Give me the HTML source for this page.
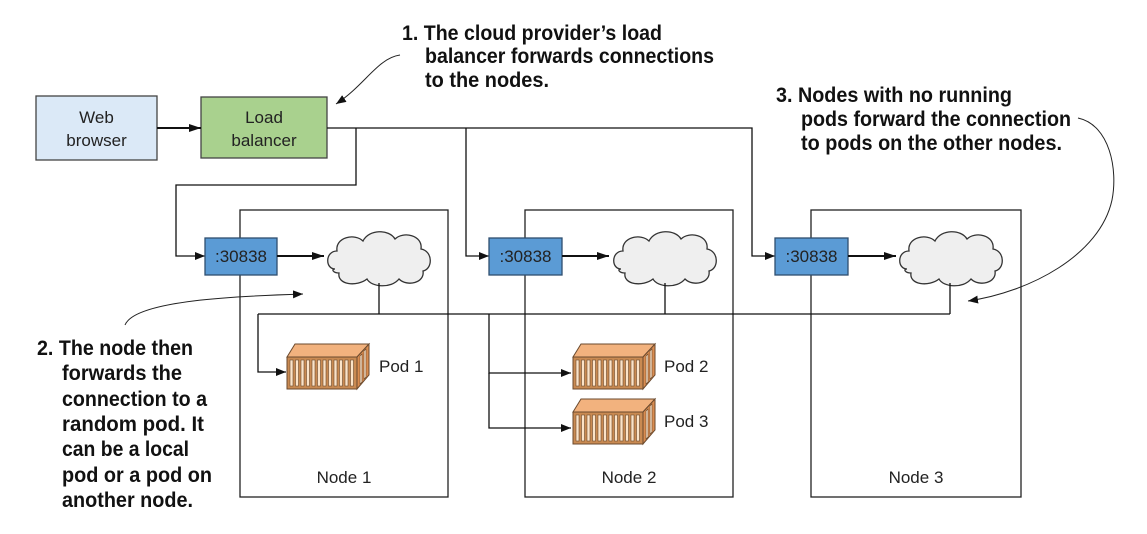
<!DOCTYPE html>
<html><head><meta charset="utf-8"><style>
html,body{margin:0;padding:0;background:#fff;}
svg{display:block;}
.b{font-family:"Liberation Sans",sans-serif;font-weight:bold;font-size:21px;fill:#111;}
.n{font-family:"Liberation Sans",sans-serif;font-size:17px;fill:#222;}
</style></head><body>
<svg width="1147" height="534" viewBox="0 0 1147 534" xmlns="http://www.w3.org/2000/svg">
<defs>
<marker id="ah" viewBox="0 0 10 8" refX="10" refY="4" markerWidth="10" markerHeight="8" markerUnits="userSpaceOnUse" orient="auto">
<path d="M0,0 L10,4 L0,8 Z" fill="#111"/></marker>
<marker id="ah2" viewBox="0 0 12 8" refX="12" refY="4" markerWidth="12" markerHeight="8" markerUnits="userSpaceOnUse" orient="auto">
<path d="M0,0 L12,4 L0,8 Z" fill="#111"/></marker>
<path id="cloud" d="M10,40 C0,40 0,22 12,22 C10,8 30,4 38,12 C44,0 64,0 70,10 C78,2 98,6 96,20 C108,22 108,40 98,42 C100,54 82,58 74,50 C66,60 46,58 42,50 C32,58 12,56 14,44 C8,44 6,40 10,40 Z" fill="#efefef" stroke="#333" stroke-width="1.3"/>
<g id="pod">
<path d="M0,14 L8,1 L82,1 L70,14 Z" fill="#f2b27e" stroke="#6b4a2e" stroke-width="1"/>
<path d="M70,14 L82,1 L82,32 L70,46 Z" fill="#d98c50" stroke="#6b4a2e" stroke-width="1"/>
<rect x="0" y="14" width="70" height="32" fill="#c98a52" stroke="#6b4a2e" stroke-width="1"/>
<g fill="#fbe3c8" stroke="#6b4a2e" stroke-width="0.6">
<rect x="3" y="17" width="3" height="26"/><rect x="8.5" y="17" width="3" height="26"/><rect x="14" y="17" width="3" height="26"/><rect x="19.5" y="17" width="3" height="26"/><rect x="25" y="17" width="3" height="26"/><rect x="30.5" y="17" width="3" height="26"/><rect x="36" y="17" width="3" height="26"/><rect x="41.5" y="17" width="3" height="26"/><rect x="47" y="17" width="3" height="26"/><rect x="52.5" y="17" width="3" height="26"/><rect x="58" y="17" width="3" height="26"/><rect x="63.5" y="17" width="3" height="26"/>
<path d="M73,13 L73,41 L75,39 L75,11 Z"/><path d="M77,8 L77,36 L79,34 L79,6 Z"/>
</g>
</g>
</defs>

<rect x="240" y="210" width="208" height="287" fill="none" stroke="#222" stroke-width="1.3"/>
<rect x="525" y="210" width="208" height="287" fill="none" stroke="#222" stroke-width="1.3"/>
<rect x="811" y="210" width="210" height="287" fill="none" stroke="#222" stroke-width="1.3"/>

<rect x="36" y="96" width="121" height="64" fill="#dbe9f7" stroke="#444" stroke-width="1.3"/>
<text class="n" x="96.5" y="123" text-anchor="middle">Web</text>
<text class="n" x="96.5" y="146" text-anchor="middle">browser</text>
<rect x="201" y="97" width="126" height="61" fill="#a9d18e" stroke="#444" stroke-width="1.3"/>
<text class="n" x="264" y="123" text-anchor="middle">Load</text>
<text class="n" x="264" y="146" text-anchor="middle">balancer</text>
<line x1="157" y1="128" x2="201" y2="128" stroke="#111" stroke-width="2" marker-end="url(#ah2)"/>

<g fill="none" stroke="#111" stroke-width="1.3">
<polyline points="327,128 752,128 752,256 775,256" marker-end="url(#ah)"/>
<polyline points="356,128 356,185 176,185 176,256 205,256" marker-end="url(#ah)"/>
<polyline points="466,128 466,256 489,256" marker-end="url(#ah)"/>
</g>

<rect x="205" y="238" width="72" height="37" fill="#5b9bd5" stroke="#2f4f6f" stroke-width="1.3"/>
<rect x="489" y="238" width="73" height="37" fill="#5b9bd5" stroke="#2f4f6f" stroke-width="1.3"/>
<rect x="775" y="238" width="73" height="37" fill="#5b9bd5" stroke="#2f4f6f" stroke-width="1.3"/>
<text class="n" x="241" y="262" text-anchor="middle">:30838</text>
<text class="n" x="525.5" y="262" text-anchor="middle">:30838</text>
<text class="n" x="811.5" y="262" text-anchor="middle">:30838</text>
<line x1="277" y1="256" x2="324" y2="256" stroke="#111" stroke-width="2" marker-end="url(#ah2)"/>
<line x1="562" y1="256" x2="609" y2="256" stroke="#111" stroke-width="2" marker-end="url(#ah2)"/>
<line x1="848" y1="256" x2="896" y2="256" stroke="#111" stroke-width="2" marker-end="url(#ah2)"/>

<use href="#cloud" transform="translate(325,229)"/>
<use href="#cloud" transform="translate(611,229)"/>
<use href="#cloud" transform="translate(897,229)"/>

<g fill="none" stroke="#111" stroke-width="1.3">
<line x1="379" y1="283" x2="379" y2="314"/>
<line x1="665" y1="283" x2="665" y2="314"/>
<line x1="950" y1="283" x2="950" y2="314"/>
<line x1="258" y1="314" x2="950" y2="314"/>
<polyline points="258,314 258,372 286,372" marker-end="url(#ah)"/>
<polyline points="489,314 489,373 571,373" marker-end="url(#ah)"/>
<polyline points="489,373 489,428 571,428" marker-end="url(#ah)"/>
</g>

<use href="#pod" transform="translate(287,343)"/>
<use href="#pod" transform="translate(573,343)"/>
<use href="#pod" transform="translate(573,398)"/>
<text class="n" x="379" y="372">Pod 1</text>
<text class="n" x="664" y="372">Pod 2</text>
<text class="n" x="664" y="427">Pod 3</text>
<text class="n" x="344" y="483" text-anchor="middle">Node 1</text>
<text class="n" x="629" y="483" text-anchor="middle">Node 2</text>
<text class="n" x="916" y="483" text-anchor="middle">Node 3</text>

<g fill="none" stroke="#222" stroke-width="1">
<path d="M400,55 C378,58 365,85 336,104" marker-end="url(#ah)"/>
<path d="M125,325 C135,300 240,296 303,294" marker-end="url(#ah)"/>
<path d="M1078,118 C1110,125 1118,170 1112,200 C1100,255 1030,292 968,301" marker-end="url(#ah)"/>
</g>

<text class="b" x="402" y="40" textLength="260" lengthAdjust="spacingAndGlyphs">1. The cloud provider’s load</text>
<text class="b" x="425" y="63" textLength="289" lengthAdjust="spacingAndGlyphs">balancer forwards connections</text>
<text class="b" x="425" y="87" textLength="124" lengthAdjust="spacingAndGlyphs">to the nodes.</text>

<text class="b" x="776" y="102" textLength="236" lengthAdjust="spacingAndGlyphs">3. Nodes with no running</text>
<text class="b" x="801" y="126" textLength="270" lengthAdjust="spacingAndGlyphs">pods forward the connection</text>
<text class="b" x="801" y="150" textLength="261" lengthAdjust="spacingAndGlyphs">to pods on the other nodes.</text>

<text class="b" x="37" y="355" textLength="156" lengthAdjust="spacingAndGlyphs">2. The node then</text>
<text class="b" x="62" y="380" textLength="120" lengthAdjust="spacingAndGlyphs">forwards the</text>
<text class="b" x="62" y="406" textLength="145" lengthAdjust="spacingAndGlyphs">connection to a</text>
<text class="b" x="62" y="431" textLength="142" lengthAdjust="spacingAndGlyphs">random pod. It</text>
<text class="b" x="62" y="456" textLength="127" lengthAdjust="spacingAndGlyphs">can be a local</text>
<text class="b" x="62" y="482" textLength="150" lengthAdjust="spacingAndGlyphs">pod or a pod on</text>
<text class="b" x="62" y="507" textLength="131" lengthAdjust="spacingAndGlyphs">another node.</text>
</svg>
</body></html>
